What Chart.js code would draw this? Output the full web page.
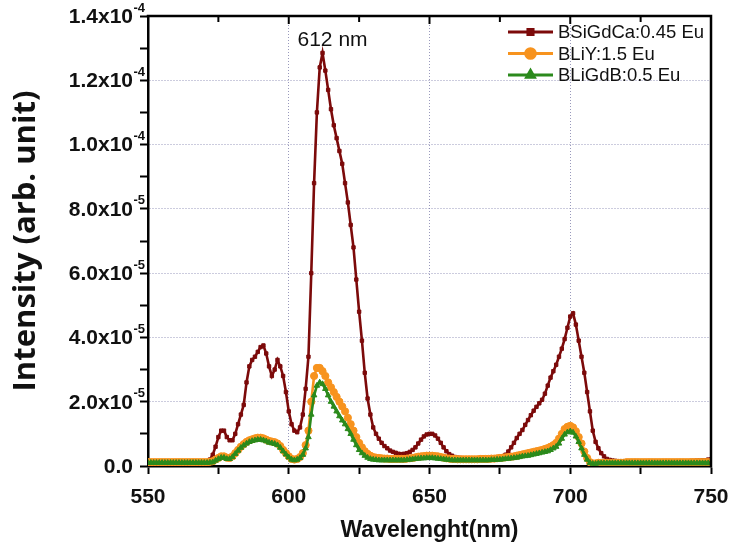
<!DOCTYPE html>
<html><head><meta charset="utf-8">
<script src="https://cdn.jsdelivr.net/npm/chart.js@4.4.1/dist/chart.umd.min.js"></script>
<style>html,body{margin:0;padding:0;background:#fff;}#wrap{width:729px;height:547px;position:relative;}</style>
</head><body><div id="wrap"><canvas id="c" width="729" height="547"></canvas></div>
<script>
// Wavelength (nm)
const wavelengths = [
550,551,552,553,554,555,556,557,558,559,560,561,562,563,564,565,566,567,568,569,
570,571,572,573,574,575,576,577,578,579,580,581,582,583,584,585,586,587,588,589,
590,591,592,593,594,595,596,597,598,599,600,601,602,603,604,605,606,607,608,609,
610,611,612,613,614,615,616,617,618,619,620,621,622,623,624,625,626,627,628,629,
630,631,632,633,634,635,636,637,638,639,640,641,642,643,644,645,646,647,648,649,
650,651,652,653,654,655,656,657,658,659,660,661,662,663,664,665,666,667,668,669,
670,671,672,673,674,675,676,677,678,679,680,681,682,683,684,685,686,687,688,689,
690,691,692,693,694,695,696,697,698,699,700,701,702,703,704,705,706,707,708,709,
710,711,712,713,714,715,716,717,718,719,720,721,722,723,724,725,726,727,728,729,
730,731,732,733,734,735,736,737,738,739,740,741,742,743,744,745,746,747,748,749,750];

// Intensity in units of 1e-5 (arb. unit)
const bsigdca = [
0.1,0.1,0.1,0.1,0.1,0.1,0.1,0.1,0.1,0.1,0.1,0.1,0.1,0.1,0.1,0.1,0.1,0.1,0.1,0.1,
0.1,0.12,0.2,0.35,0.6,0.9,1.1,1.1,0.9,0.8,
0.8,1.0,1.3,1.6,1.9,2.6,3.1,3.3,3.4,3.55,
3.7,3.75,3.5,3.1,2.8,3.0,3.3,3.1,2.8,2.3,
1.7,1.3,1.1,1.05,1.2,1.6,2.4,3.4,6.0,8.8,
11.0,12.4,12.85,12.3,11.7,11.1,10.6,10.2,9.8,9.4,
8.8,8.2,7.5,6.8,5.8,4.8,3.9,2.9,2.1,1.6,
1.2,1.0,0.85,0.72,0.62,0.55,0.48,0.44,0.41,0.38,
0.37,0.38,0.4,0.44,0.5,0.58,0.7,0.82,0.92,0.98,
1.0,1.0,0.95,0.85,0.72,0.58,0.46,0.37,0.32,0.28,
0.26,0.25,0.24,0.24,0.23,0.23,0.24,0.23,0.23,0.24,
0.24,0.23,0.24,0.25,0.26,0.28,0.3,0.35,0.45,0.58,
0.72,0.87,1.0,1.12,1.28,1.43,1.58,1.72,1.84,1.95,
2.06,2.25,2.5,2.75,2.95,3.15,3.4,3.65,3.95,4.3,
4.65,4.75,4.4,3.9,3.4,2.9,2.3,1.7,1.1,0.75,
0.55,0.4,0.3,0.22,0.19,0.17,0.16,0.15,0.15,0.15,
0.15,0.15,0.15,0.15,0.15,0.15,0.15,0.15,0.15,0.15,
0.15,0.15,0.15,0.15,0.15,0.15,0.15,0.15,0.15,0.15,
0.15,0.15,0.15,0.16,0.16,0.17,0.17,0.18,0.18,0.2,0.2];

const bliy = [
0.12,0.12,0.12,0.12,0.12,0.12,0.12,0.12,0.12,0.12,0.12,0.12,0.12,0.12,0.12,0.12,0.12,0.12,0.12,0.12,
0.12,0.12,0.13,0.15,0.2,0.25,0.3,0.3,0.26,0.25,
0.3,0.4,0.5,0.6,0.68,0.75,0.8,0.83,0.86,0.88,
0.88,0.86,0.82,0.78,0.76,0.74,0.7,0.62,0.5,0.4,
0.3,0.22,0.2,0.22,0.28,0.4,0.65,1.1,2.0,2.8,
3.05,3.05,2.95,2.8,2.6,2.45,2.3,2.15,2.0,1.85,
1.7,1.5,1.3,1.1,0.9,0.72,0.58,0.46,0.38,0.32,
0.28,0.26,0.25,0.24,0.23,0.23,0.22,0.22,0.22,0.22,
0.22,0.22,0.23,0.24,0.25,0.27,0.29,0.3,0.31,0.32,
0.32,0.32,0.31,0.3,0.28,0.26,0.24,0.23,0.22,0.22,
0.21,0.21,0.21,0.21,0.21,0.21,0.21,0.21,0.22,0.22,
0.22,0.22,0.23,0.23,0.24,0.25,0.26,0.27,0.28,0.29,
0.3,0.32,0.34,0.36,0.38,0.4,0.42,0.44,0.46,0.48,
0.5,0.53,0.56,0.6,0.65,0.72,0.85,1.0,1.15,1.22,
1.25,1.2,1.08,0.9,0.7,0.45,0.25,0.12,0.08,0.08,
0.1,0.1,0.1,0.1,0.1,0.1,0.1,0.1,0.1,0.1,
0.12,0.12,0.12,0.12,0.12,0.12,0.12,0.12,0.12,0.12,
0.12,0.12,0.12,0.12,0.12,0.12,0.12,0.12,0.12,0.12,
0.12,0.12,0.12,0.12,0.12,0.12,0.12,0.12,0.12,0.12,0.12];

const bligdb = [
0.1,0.1,0.1,0.1,0.1,0.1,0.1,0.1,0.1,0.1,0.1,0.1,0.1,0.1,0.1,0.1,0.1,0.1,0.1,0.1,
0.1,0.1,0.11,0.12,0.17,0.22,0.26,0.26,0.22,0.22,
0.28,0.38,0.48,0.57,0.64,0.7,0.75,0.78,0.8,0.82,
0.82,0.8,0.77,0.73,0.71,0.69,0.65,0.57,0.46,0.36,
0.27,0.2,0.18,0.2,0.25,0.35,0.55,0.9,1.6,2.2,
2.5,2.6,2.55,2.4,2.2,2.0,1.85,1.7,1.55,1.42,
1.3,1.15,1.0,0.82,0.65,0.5,0.4,0.32,0.26,0.22,
0.2,0.19,0.18,0.18,0.18,0.18,0.18,0.18,0.18,0.18,
0.18,0.18,0.19,0.2,0.21,0.22,0.23,0.24,0.24,0.25,
0.25,0.25,0.24,0.23,0.22,0.21,0.2,0.19,0.18,0.18,
0.18,0.18,0.18,0.18,0.18,0.18,0.18,0.18,0.18,0.18,
0.18,0.18,0.19,0.19,0.2,0.2,0.21,0.22,0.23,0.24,
0.25,0.26,0.28,0.3,0.31,0.32,0.34,0.36,0.38,0.4,
0.42,0.44,0.46,0.5,0.55,0.6,0.7,0.85,0.98,1.05,
1.08,1.04,0.92,0.75,0.55,0.35,0.2,0.1,0.07,0.07,
0.09,0.09,0.09,0.09,0.09,0.09,0.09,0.09,0.09,0.09,
0.09,0.09,0.09,0.09,0.09,0.09,0.09,0.09,0.09,0.09,
0.09,0.09,0.09,0.09,0.09,0.09,0.09,0.09,0.09,0.09,
0.09,0.09,0.09,0.09,0.09,0.09,0.09,0.09,0.09,0.09,0.09];

const seriesLabels = ['BSiGdCa:0.45 Eu', 'BLiY:1.5 Eu', 'BLiGdB:0.5 Eu'];
const xTickValues = [550,575,600,625,650,675,700,725,750];
const xTickLabels = ['550','','600','','650','','700','','750'];
const yTickValues = [0,1,2,3,4,5,6,7,8,9,10,11,12,13,14];
const yTickMantissa = ['0.0','','2.0x10','','4.0x10','','6.0x10','','8.0x10','','1.0x10','','1.2x10','','1.4x10'];
const yTickExponent = ['','','-5','','-5','','-5','','-5','','-4','','-4','','-4'];
const peakLabel = '612 nm';
const peakWavelength = 612;

const COLORS = ['#7c0a0a', '#f7931e', '#2b8a1c'];
const STYLES = ['rect', 'circle', 'triangle'];
const RADII = [2.4, 3.6, 3.2];

const GRID = 'rgba(110,110,160,0.7)';
const AXIS_FONT = '"Liberation Sans", Arial, sans-serif';

const decorPlugin = {
  id: 'decor',
  afterDraw(chart) {
    const ctx = chart.ctx;
    const a = chart.chartArea;
    const xs = chart.scales.x, ys = chart.scales.y;
    ctx.save();
    // top and right frame
    ctx.strokeStyle = '#000';
    ctx.lineWidth = 2.5;
    ctx.beginPath();
    ctx.moveTo(a.left - 1.25, a.top);
    ctx.lineTo(a.right, a.top);
    ctx.lineTo(a.right, a.bottom + 1.25);
    ctx.stroke();
    // top inward ticks
    ctx.lineWidth = 2;
    xTickValues.forEach((v, i) => {
      const px = xs.getPixelForValue(v);
      const len = xTickLabels[i] ? 8 : 6;
      ctx.beginPath();
      ctx.moveTo(px, a.top);
      ctx.lineTo(px, a.top + len);
      ctx.stroke();
    });
    // y tick labels with superscript exponent
    ctx.fillStyle = '#111';
    ctx.textBaseline = 'middle';
    yTickValues.forEach((v, i) => {
      const m = yTickMantissa[i];
      if (!m) return;
      const py = ys.getPixelForValue(v);
      const baseRight = a.left - 15;
      ctx.font = 'bold 21px ' + AXIS_FONT;
      ctx.textAlign = 'right';
      ctx.fillText(m, baseRight, py + 1);
      const e = yTickExponent[i];
      if (e) {
        ctx.font = 'bold 13px ' + AXIS_FONT;
        ctx.textAlign = 'left';
        ctx.fillText(e, baseRight + 0.5, py - 8);
      }
    });
    // peak annotation
    ctx.font = '21px ' + AXIS_FONT;
    ctx.textAlign = 'center';
    ctx.textBaseline = 'alphabetic';
    ctx.fillStyle = '#111';
    ctx.fillText(peakLabel, xs.getPixelForValue(peakWavelength) + 10, a.top + 30);
    // legend
    const ds = chart.data.datasets;
    const lx0 = a.right - 203, lx1 = lx0 + 45, tx = lx1 + 5;
    ds.forEach((d, i) => {
      const y = a.top + 16 + i * 21.5;
      ctx.strokeStyle = d.borderColor;
      ctx.fillStyle = d.borderColor;
      ctx.lineWidth = 3;
      ctx.beginPath();
      ctx.moveTo(lx0, y);
      ctx.lineTo(lx1, y);
      ctx.stroke();
      Chart.helpers.drawPoint(ctx, {pointStyle: d.pointStyle, radius: d.pointRadius + 1.2, borderWidth: 1}, (lx0 + lx1) / 2, y);
      ctx.fillStyle = '#111';
      ctx.font = '18.5px ' + AXIS_FONT;
      ctx.textAlign = 'left';
      ctx.textBaseline = 'middle';
      ctx.fillText(d.label, tx, y + 1);
    });
    ctx.restore();
  }
};

const datasets = [bsigdca, bliy, bligdb].map((vals, i) => ({
  label: seriesLabels[i],
  data: vals,
  borderColor: COLORS[i],
  backgroundColor: COLORS[i],
  pointBackgroundColor: COLORS[i],
  pointBorderColor: COLORS[i],
  pointStyle: STYLES[i],
  pointRadius: RADII[i],
  pointBorderWidth: 1,
  borderWidth: 2.6,
  tension: 0,
  order: 3 - i
}));

new Chart(document.getElementById('c'), {
  type: 'line',
  data: { labels: wavelengths, datasets },
  plugins: [decorPlugin],
  options: {
    responsive: false,
    animation: false,
    devicePixelRatio: 1,
    layout: { padding: { left: 6, top: 16, right: 18, bottom: 0 } },
    plugins: { legend: { display: false }, tooltip: { enabled: false } },
    scales: {
      x: {
        type: 'linear',
        min: 550, max: 750,
        afterBuildTicks: (s) => { s.ticks = xTickValues.map(v => ({ value: v })); },
        afterFit: (s) => { s.height = 81; s.paddingLeft = 0; s.paddingRight = 0; },
        ticks: {
          autoSkip: false, maxRotation: 0, padding: 11,
          color: '#111',
          font: { family: AXIS_FONT, size: 21, weight: 'bold' },
          callback: (v) => { const i = xTickValues.indexOf(v); return i >= 0 ? xTickLabels[i] : ''; }
        },
        grid: {
          color: (c) => (c.tick && (c.tick.value === 600 || c.tick.value === 650 || c.tick.value === 700)) ? GRID : 'rgba(0,0,0,0)',
          lineWidth: 1,
          tickColor: '#000', tickWidth: 2, tickLength: 8, drawTicks: true
        },
        border: { display: true, color: '#000', width: 2.5, dash: [1, 2] },
        title: { display: true, text: 'Wavelenght(nm)', color: '#111',
          font: { family: AXIS_FONT, size: 23, weight: 'bold' }, padding: { top: 0, bottom: 3 } }
      },
      y: {
        type: 'linear',
        min: 0, max: 14,
        afterBuildTicks: (s) => { s.ticks = yTickValues.map(v => ({ value: v })); },
        afterFit: (s) => { s.width = 142; s.paddingTop = 0; s.paddingBottom = 0; },
        ticks: { display: true, callback: () => '', padding: 0 },
        grid: {
          color: (c) => (c.tick && c.tick.value % 2 === 0 && c.tick.value > 0 && c.tick.value < 14) ? GRID : 'rgba(0,0,0,0)',
          lineWidth: 1,
          tickColor: '#000', tickWidth: 2, tickLength: 8, drawTicks: true
        },
        border: { display: true, color: '#000', width: 2.5, dash: [1, 2] },
        title: { display: true, text: 'Intensity (arb. unit)', color: '#111',
          font: { family: '"Open Sans", sans-serif', size: 31, weight: 'bold' }, padding: { top: 2, bottom: 0 } }
      }
    }
  }
});
</script></body></html>
